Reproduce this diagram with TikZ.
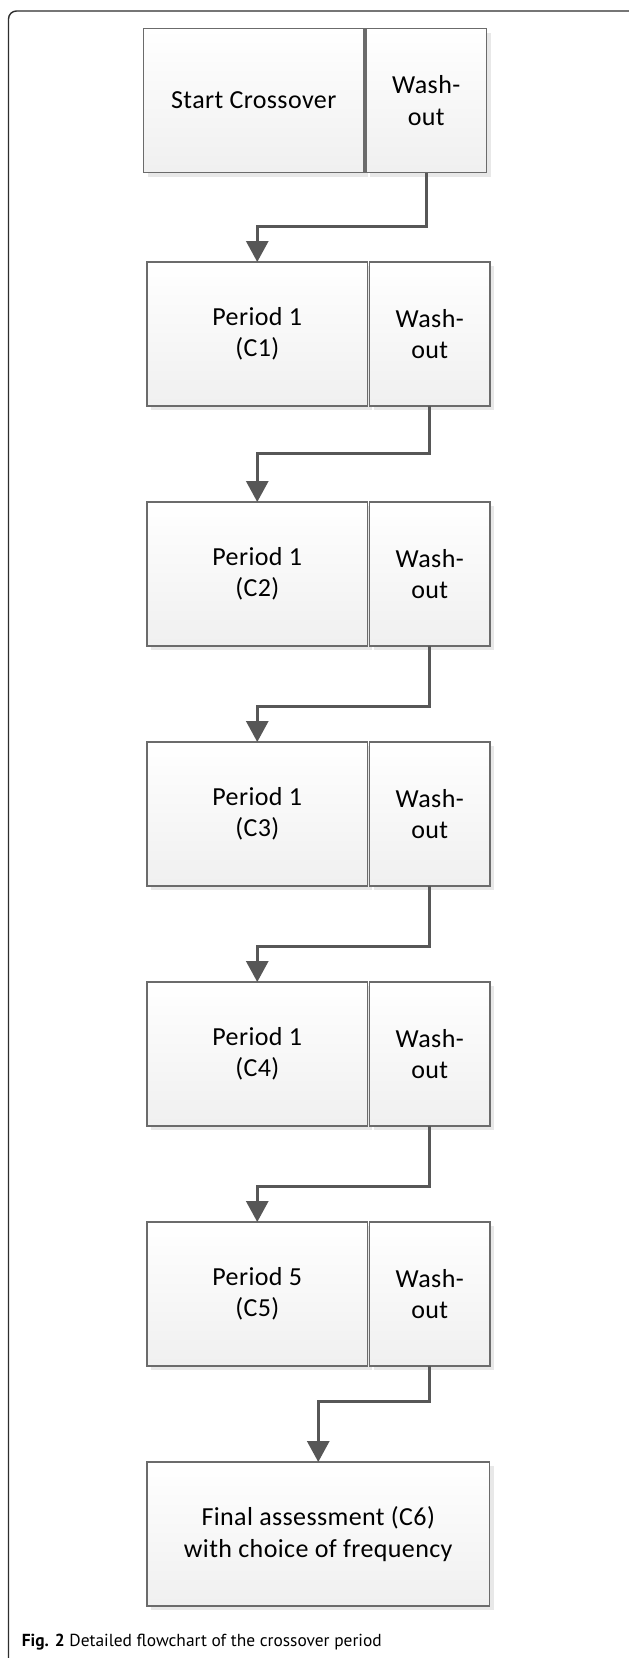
\documentclass[tikz,border=0pt]{standalone}
\usepackage{fontspec}
\setmainfont{Carlito}[LetterSpace=1.5]
\newfontfamily\capfont{PT Sans}
\usetikzlibrary{positioning,arrows.meta,shadows}

\begin{document}
\begin{tikzpicture}[x=1pt,y=-1pt,node distance=96pt,
  period/.style={draw=black!58, line width=1.4pt, top color=white, bottom color=black!6,
    minimum width=220.5pt, minimum height=144pt, inner sep=0pt, outer sep=0pt,
    align=center, font=\fontsize{26}{31.5}\selectfont,
    drop shadow={shadow xshift=4pt, shadow yshift=-4pt, fill=black, opacity=0.09}},
  wash/.style={period, minimum width=120.5pt},
  final/.style={period, minimum width=342.5pt},
  flow/.style={draw=black!66, line width=3pt, -{Triangle[width=22pt,length=21pt]}}]

  % page and frame
  \useasboundingbox (0,0) rectangle (629,1658);
  \fill[white] (0,0) rectangle (629,1658);
  \begin{scope}
    \clip (0,0) rectangle (629,1658);
    \draw[black!82, line width=1.4pt, rounded corners=8pt] (8.5,11) rectangle (645,1672);
  \end{scope}

  % boxes
  \node[period, anchor=north west] (s0) at (143.5,28.5) {Start Crossover};
  \node[wash]   (w0) [right=2pt of s0]              {Wash-\\out};
  \node[period] (p1) [below=89.5pt of s0, xshift=3.5pt] {Period 1\\(C1)};
  \node[wash]   (w1) [right=2pt of p1]              {Wash-\\out};
  \node[period] (p2) [below=of p1]                  {Period 1\\(C2)};
  \node[wash]   (w2) [right=2pt of p2]              {Wash-\\out};
  \node[period] (p3) [below=of p2]                  {Period 1\\(C3)};
  \node[wash]   (w3) [right=2pt of p3]              {Wash-\\out};
  \node[period] (p4) [below=of p3]                  {Period 1\\(C4)};
  \node[wash]   (w4) [right=2pt of p4]              {Wash-\\out};
  \node[period] (p5) [below=of p4]                  {Period 5\\(C5)};
  \node[wash]   (w5) [right=2pt of p5]              {Wash-\\out};
  \node[final]  (f6) [below right=96pt and 0pt of p5.south west]
                {Final assessment (C6)\\with choice of frequency};

  % connectors
  \draw[flow] (w0.south) -- ++(0,54)   -| (p1.north);
  \draw[flow] (w1.south) -- ++(0,47.5) -| (p2.north);
  \draw[flow] (w2.south) -- ++(0,60)   -| (p3.north);
  \draw[flow] (w3.south) -- ++(0,60)   -| (p4.north);
  \draw[flow] (w4.south) -- ++(0,60)   -| (p5.north);
  \draw[flow] (w5.south) -- ++(0,35)   -| (f6.north);

  % caption
  \node[anchor=base west, inner sep=0pt, font=\capfont\fontsize{17.4}{20}\selectfont] (cap)
    at (21.7,1646.7) {\textbf{Fig. 2} Detailed flowchart of the crossover period};
\end{tikzpicture}
\end{document}
